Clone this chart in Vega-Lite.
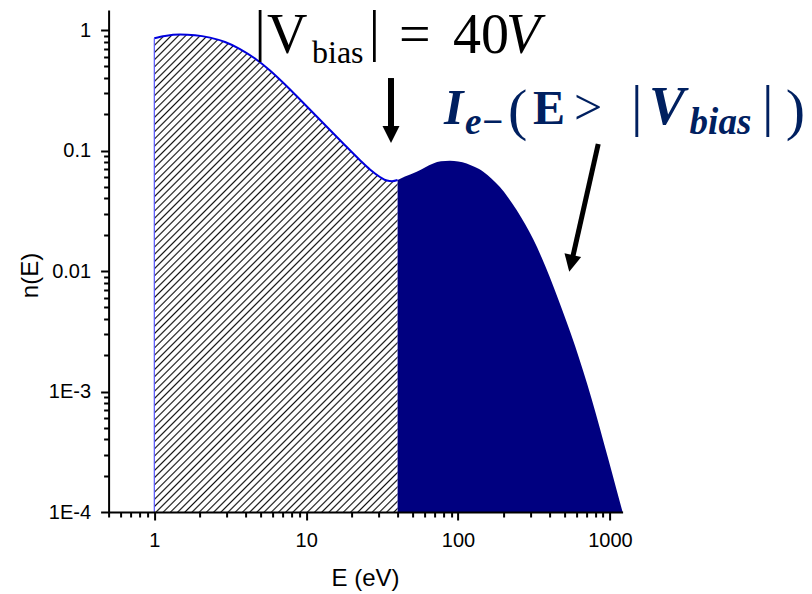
{
  "$schema": "https://vega.github.io/schema/vega-lite/v6.json",
  "width": 514,
  "height": 502,
  "autosize": "none",
  "padding": {"left": 108.6, "top": 10, "right": 189.4, "bottom": 82},
  "background": "white",
  "config": {"view": {"stroke": null}},
  "datasets": {
    "curve": [
      {"E": 1, "n": 0.8533}, {"E": 1.176, "n": 0.8916}, {"E": 1.476, "n": 0.9159}, {"E": 1.853, "n": 0.9054},
      {"E": 2.326, "n": 0.8647}, {"E": 2.92, "n": 0.7951}, {"E": 3.666, "n": 0.6956}, {"E": 4.602, "n": 0.58},
      {"E": 5.777, "n": 0.4612}, {"E": 7.252, "n": 0.353}, {"E": 9.103, "n": 0.265}, {"E": 11.43, "n": 0.1982},
      {"E": 14.34, "n": 0.148}, {"E": 18.0, "n": 0.1107}, {"E": 22.61, "n": 0.0831}, {"E": 26.3, "n": 0.0696},
      {"E": 30.61, "n": 0.0603}, {"E": 34.03, "n": 0.0563}, {"E": 36.72, "n": 0.0556}, {"E": 40, "n": 0.0569},
      {"E": 44.71, "n": 0.0608}, {"E": 53.4, "n": 0.0667}, {"E": 60.55, "n": 0.0723}, {"E": 68.66, "n": 0.078},
      {"E": 77.17, "n": 0.0813}, {"E": 88.44, "n": 0.0824}, {"E": 100.3, "n": 0.0812}, {"E": 113.9, "n": 0.0781},
      {"E": 129.2, "n": 0.0729}, {"E": 146.6, "n": 0.0668}, {"E": 166.4, "n": 0.0584}, {"E": 188.7, "n": 0.0498},
      {"E": 214.1, "n": 0.0406}, {"E": 243.1, "n": 0.03209}, {"E": 275.6, "n": 0.02464}, {"E": 312.7, "n": 0.01833},
      {"E": 355.1, "n": 0.01294}, {"E": 402.7, "n": 0.00883}, {"E": 456.8, "n": 0.005834}, {"E": 518.8, "n": 0.003781},
      {"E": 588.3, "n": 0.002408}, {"E": 667.3, "n": 0.001471}, {"E": 757.9, "n": 0.000867}, {"E": 859.5, "n": 0.000494},
      {"E": 974.6, "n": 0.000276}, {"E": 1107, "n": 0.000152}, {"E": 1212, "n": 0.0001}
    ],
    "lab1big": [
      {"E": 4.56, "n": 0.6823, "t": "|"},
      {"E": 5.521, "n": 0.6406, "t": "V"},
      {"E": 25.86, "n": 0.6823, "t": "|"},
      {"E": 40.83, "n": 0.6406, "t": "="},
      {"E": 92.56, "n": 0.6406, "t": "40"}
    ],
    "lab1sub": [{"E": 10.92, "n": 0.5293, "t": "bias"}],
    "lab1ital": [{"E": 206.8, "n": 0.6406, "t": "V"}],
    "lab2bi": [{"E": 80.77, "n": 0.1672, "t": "I"}],
    "lab2bisub": [{"E": 111.0, "n": 0.136, "t": "e−"}, {"E": 3347, "n": 0.136, "t": "bias"}],
    "lab2paren": [
      {"E": 213.1, "n": 0.1508, "t": "("},
      {"E": 14370, "n": 0.1508, "t": ")"},
      {"E": 1375, "n": 0.1628, "t": "|"},
      {"E": 10016, "n": 0.1628, "t": "|"}
    ],
    "lab2gt": [{"E": 579.4, "n": 0.1672, "t": ">"}],
    "lab2E": [{"E": 311.3, "n": 0.1672, "t": "E"}],
    "lab2V": [{"E": 1806, "n": 0.1672, "t": "V"}],
    "shaft1": [{"E": 36.17, "n": 0.3995, "E2": 36.17, "n2": 0.148}],
    "head1": [{"E": 36.17, "n": 0.1358}],
    "shaft2": [{"E": 837.5, "n": 0.1132, "E2": 566.3, "n2": 0.0127}],
    "head2": [{"E": 554.6, "n": 0.01156}]
  },
  "encoding": {
    "x": {
      "field": "E", "type": "quantitative",
      "scale": {"type": "log", "domain": [0.5, 1212], "nice": false},
      "axis": {
        "orient": "bottom", "title": "E (eV)", "grid": false, "zindex": 1,
        "values": [0.5, 0.6, 0.7, 0.8, 0.9, 1, 2, 3, 4, 5, 6, 7, 8, 9, 10, 20, 30, 40, 50, 60, 70, 80, 90, 100, 200, 300, 400, 500, 600, 700, 800, 900, 1000],
        "labelExpr": "abs(log(datum.value)/LN10 - round(log(datum.value)/LN10)) < 0.001 ? format(datum.value, 'd') : ''",
        "tickSize": {"condition": {"test": "abs(log(datum.value)/LN10 - round(log(datum.value)/LN10)) < 0.001", "value": 8}, "value": 5},
        "tickWidth": 2, "tickColor": "black", "domainColor": "black", "domainWidth": 2,
        "labelFont": "Liberation Sans", "labelFontSize": 20, "labelColor": "black", "labelPadding": 10,
        "labelOverlap": false, "labelFlush": false, "labelBound": false,
        "titleFont": "Liberation Sans", "titleFontSize": 24, "titleFontWeight": "normal", "titleColor": "black",
        "titleX": 256.4, "titleY": 73, "titleBaseline": "alphabetic", "titleAlign": "center"
      }
    },
    "y": {
      "field": "n", "type": "quantitative",
      "scale": {"type": "log", "domain": [0.0001, 1.466], "nice": false},
      "axis": {
        "orient": "left", "title": "n(E)", "grid": false, "zindex": 1,
        "values": [0.0001, 0.0002, 0.0003, 0.0004, 0.0005, 0.0006, 0.0007, 0.0008, 0.0009, 0.001, 0.002, 0.003, 0.004, 0.005, 0.006, 0.007, 0.008, 0.009, 0.01, 0.02, 0.03, 0.04, 0.05, 0.06, 0.07, 0.08, 0.09, 0.1, 0.2, 0.3, 0.4, 0.5, 0.6, 0.7, 0.8, 0.9, 1],
        "labelExpr": "abs(log(datum.value)/LN10 - round(log(datum.value)/LN10)) < 0.001 ? (datum.value >= 0.01 ? format(datum.value, '~g') : '1E' + round(log(datum.value)/LN10)) : ''",
        "tickSize": {"condition": {"test": "abs(log(datum.value)/LN10 - round(log(datum.value)/LN10)) < 0.001", "value": 8}, "value": 5},
        "tickWidth": 2, "tickColor": "black", "domainColor": "black", "domainWidth": 2,
        "labelFont": "Liberation Sans", "labelFontSize": 20, "labelColor": "black", "labelPadding": 10,
        "labelOverlap": false, "labelFlush": false, "labelBound": false,
        "titleFont": "Liberation Sans", "titleFontSize": 24, "titleFontWeight": "normal", "titleColor": "black",
        "titleX": -78.6, "titleY": 265, "titleBaseline": "middle", "titleAlign": "center", "titleAngle": -90
      }
    }
  },
  "layer": [
    {
      "data": {"name": "curve"},
      "transform": [{"filter": "datum.E <= 40"}],
      "mark": {
        "type": "area", "interpolate": "monotone", "fillOpacity": 1,
        "fill": {
          "gradient": "linear", "x1": 0, "y1": 0, "x2": 0.6107, "y2": 1.1984,
          "stops": [
            {"offset":0.0028,"color":"#fff"},{"offset":0.005,"color":"#111"},{"offset":0.0072,"color":"#fff"},
            {"offset":0.0128,"color":"#fff"},{"offset":0.015,"color":"#111"},{"offset":0.0172,"color":"#fff"},
            {"offset":0.0228,"color":"#fff"},{"offset":0.025,"color":"#111"},{"offset":0.0272,"color":"#fff"},
            {"offset":0.0328,"color":"#fff"},{"offset":0.035,"color":"#111"},{"offset":0.0372,"color":"#fff"},
            {"offset":0.0428,"color":"#fff"},{"offset":0.045,"color":"#111"},{"offset":0.0472,"color":"#fff"},
            {"offset":0.0528,"color":"#fff"},{"offset":0.055,"color":"#111"},{"offset":0.0572,"color":"#fff"},
            {"offset":0.0628,"color":"#fff"},{"offset":0.065,"color":"#111"},{"offset":0.0672,"color":"#fff"},
            {"offset":0.0728,"color":"#fff"},{"offset":0.075,"color":"#111"},{"offset":0.0772,"color":"#fff"},
            {"offset":0.0828,"color":"#fff"},{"offset":0.085,"color":"#111"},{"offset":0.0872,"color":"#fff"},
            {"offset":0.0928,"color":"#fff"},{"offset":0.095,"color":"#111"},{"offset":0.0972,"color":"#fff"},
            {"offset":0.1028,"color":"#fff"},{"offset":0.105,"color":"#111"},{"offset":0.1072,"color":"#fff"},
            {"offset":0.1128,"color":"#fff"},{"offset":0.115,"color":"#111"},{"offset":0.1172,"color":"#fff"},
            {"offset":0.1228,"color":"#fff"},{"offset":0.125,"color":"#111"},{"offset":0.1272,"color":"#fff"},
            {"offset":0.1328,"color":"#fff"},{"offset":0.135,"color":"#111"},{"offset":0.1372,"color":"#fff"},
            {"offset":0.1428,"color":"#fff"},{"offset":0.145,"color":"#111"},{"offset":0.1472,"color":"#fff"},
            {"offset":0.1528,"color":"#fff"},{"offset":0.155,"color":"#111"},{"offset":0.1572,"color":"#fff"},
            {"offset":0.1628,"color":"#fff"},{"offset":0.165,"color":"#111"},{"offset":0.1672,"color":"#fff"},
            {"offset":0.1728,"color":"#fff"},{"offset":0.175,"color":"#111"},{"offset":0.1772,"color":"#fff"},
            {"offset":0.1828,"color":"#fff"},{"offset":0.185,"color":"#111"},{"offset":0.1872,"color":"#fff"},
            {"offset":0.1928,"color":"#fff"},{"offset":0.195,"color":"#111"},{"offset":0.1972,"color":"#fff"},
            {"offset":0.2028,"color":"#fff"},{"offset":0.205,"color":"#111"},{"offset":0.2072,"color":"#fff"},
            {"offset":0.2128,"color":"#fff"},{"offset":0.215,"color":"#111"},{"offset":0.2172,"color":"#fff"},
            {"offset":0.2228,"color":"#fff"},{"offset":0.225,"color":"#111"},{"offset":0.2272,"color":"#fff"},
            {"offset":0.2328,"color":"#fff"},{"offset":0.235,"color":"#111"},{"offset":0.2372,"color":"#fff"},
            {"offset":0.2428,"color":"#fff"},{"offset":0.245,"color":"#111"},{"offset":0.2472,"color":"#fff"},
            {"offset":0.2528,"color":"#fff"},{"offset":0.255,"color":"#111"},{"offset":0.2572,"color":"#fff"},
            {"offset":0.2628,"color":"#fff"},{"offset":0.265,"color":"#111"},{"offset":0.2672,"color":"#fff"},
            {"offset":0.2728,"color":"#fff"},{"offset":0.275,"color":"#111"},{"offset":0.2772,"color":"#fff"},
            {"offset":0.2828,"color":"#fff"},{"offset":0.285,"color":"#111"},{"offset":0.2872,"color":"#fff"},
            {"offset":0.2928,"color":"#fff"},{"offset":0.295,"color":"#111"},{"offset":0.2972,"color":"#fff"},
            {"offset":0.3028,"color":"#fff"},{"offset":0.305,"color":"#111"},{"offset":0.3072,"color":"#fff"},
            {"offset":0.3128,"color":"#fff"},{"offset":0.315,"color":"#111"},{"offset":0.3172,"color":"#fff"},
            {"offset":0.3228,"color":"#fff"},{"offset":0.325,"color":"#111"},{"offset":0.3272,"color":"#fff"},
            {"offset":0.3328,"color":"#fff"},{"offset":0.335,"color":"#111"},{"offset":0.3372,"color":"#fff"},
            {"offset":0.3428,"color":"#fff"},{"offset":0.345,"color":"#111"},{"offset":0.3472,"color":"#fff"},
            {"offset":0.3528,"color":"#fff"},{"offset":0.355,"color":"#111"},{"offset":0.3572,"color":"#fff"},
            {"offset":0.3628,"color":"#fff"},{"offset":0.365,"color":"#111"},{"offset":0.3672,"color":"#fff"},
            {"offset":0.3728,"color":"#fff"},{"offset":0.375,"color":"#111"},{"offset":0.3772,"color":"#fff"},
            {"offset":0.3828,"color":"#fff"},{"offset":0.385,"color":"#111"},{"offset":0.3872,"color":"#fff"},
            {"offset":0.3928,"color":"#fff"},{"offset":0.395,"color":"#111"},{"offset":0.3972,"color":"#fff"},
            {"offset":0.4028,"color":"#fff"},{"offset":0.405,"color":"#111"},{"offset":0.4072,"color":"#fff"},
            {"offset":0.4128,"color":"#fff"},{"offset":0.415,"color":"#111"},{"offset":0.4172,"color":"#fff"},
            {"offset":0.4228,"color":"#fff"},{"offset":0.425,"color":"#111"},{"offset":0.4272,"color":"#fff"},
            {"offset":0.4328,"color":"#fff"},{"offset":0.435,"color":"#111"},{"offset":0.4372,"color":"#fff"},
            {"offset":0.4428,"color":"#fff"},{"offset":0.445,"color":"#111"},{"offset":0.4472,"color":"#fff"},
            {"offset":0.4528,"color":"#fff"},{"offset":0.455,"color":"#111"},{"offset":0.4572,"color":"#fff"},
            {"offset":0.4628,"color":"#fff"},{"offset":0.465,"color":"#111"},{"offset":0.4672,"color":"#fff"},
            {"offset":0.4728,"color":"#fff"},{"offset":0.475,"color":"#111"},{"offset":0.4772,"color":"#fff"},
            {"offset":0.4828,"color":"#fff"},{"offset":0.485,"color":"#111"},{"offset":0.4872,"color":"#fff"},
            {"offset":0.4928,"color":"#fff"},{"offset":0.495,"color":"#111"},{"offset":0.4972,"color":"#fff"},
            {"offset":0.5028,"color":"#fff"},{"offset":0.505,"color":"#111"},{"offset":0.5072,"color":"#fff"},
            {"offset":0.5128,"color":"#fff"},{"offset":0.515,"color":"#111"},{"offset":0.5172,"color":"#fff"},
            {"offset":0.5228,"color":"#fff"},{"offset":0.525,"color":"#111"},{"offset":0.5272,"color":"#fff"},
            {"offset":0.5328,"color":"#fff"},{"offset":0.535,"color":"#111"},{"offset":0.5372,"color":"#fff"},
            {"offset":0.5428,"color":"#fff"},{"offset":0.545,"color":"#111"},{"offset":0.5472,"color":"#fff"},
            {"offset":0.5528,"color":"#fff"},{"offset":0.555,"color":"#111"},{"offset":0.5572,"color":"#fff"},
            {"offset":0.5628,"color":"#fff"},{"offset":0.565,"color":"#111"},{"offset":0.5672,"color":"#fff"},
            {"offset":0.5728,"color":"#fff"},{"offset":0.575,"color":"#111"},{"offset":0.5772,"color":"#fff"},
            {"offset":0.5828,"color":"#fff"},{"offset":0.585,"color":"#111"},{"offset":0.5872,"color":"#fff"},
            {"offset":0.5928,"color":"#fff"},{"offset":0.595,"color":"#111"},{"offset":0.5972,"color":"#fff"},
            {"offset":0.6028,"color":"#fff"},{"offset":0.605,"color":"#111"},{"offset":0.6072,"color":"#fff"},
            {"offset":0.6128,"color":"#fff"},{"offset":0.615,"color":"#111"},{"offset":0.6172,"color":"#fff"},
            {"offset":0.6228,"color":"#fff"},{"offset":0.625,"color":"#111"},{"offset":0.6272,"color":"#fff"},
            {"offset":0.6328,"color":"#fff"},{"offset":0.635,"color":"#111"},{"offset":0.6372,"color":"#fff"},
            {"offset":0.6428,"color":"#fff"},{"offset":0.645,"color":"#111"},{"offset":0.6472,"color":"#fff"},
            {"offset":0.6528,"color":"#fff"},{"offset":0.655,"color":"#111"},{"offset":0.6572,"color":"#fff"},
            {"offset":0.6628,"color":"#fff"},{"offset":0.665,"color":"#111"},{"offset":0.6672,"color":"#fff"},
            {"offset":0.6728,"color":"#fff"},{"offset":0.675,"color":"#111"},{"offset":0.6772,"color":"#fff"},
            {"offset":0.6828,"color":"#fff"},{"offset":0.685,"color":"#111"},{"offset":0.6872,"color":"#fff"},
            {"offset":0.6928,"color":"#fff"},{"offset":0.695,"color":"#111"},{"offset":0.6972,"color":"#fff"},
            {"offset":0.7028,"color":"#fff"},{"offset":0.705,"color":"#111"},{"offset":0.7072,"color":"#fff"},
            {"offset":0.7128,"color":"#fff"},{"offset":0.715,"color":"#111"},{"offset":0.7172,"color":"#fff"},
            {"offset":0.7228,"color":"#fff"},{"offset":0.725,"color":"#111"},{"offset":0.7272,"color":"#fff"},
            {"offset":0.7328,"color":"#fff"},{"offset":0.735,"color":"#111"},{"offset":0.7372,"color":"#fff"},
            {"offset":0.7428,"color":"#fff"},{"offset":0.745,"color":"#111"},{"offset":0.7472,"color":"#fff"},
            {"offset":0.7528,"color":"#fff"},{"offset":0.755,"color":"#111"},{"offset":0.7572,"color":"#fff"},
            {"offset":0.7628,"color":"#fff"},{"offset":0.765,"color":"#111"},{"offset":0.7672,"color":"#fff"},
            {"offset":0.7728,"color":"#fff"},{"offset":0.775,"color":"#111"},{"offset":0.7772,"color":"#fff"},
            {"offset":0.7828,"color":"#fff"},{"offset":0.785,"color":"#111"},{"offset":0.7872,"color":"#fff"},
            {"offset":0.7928,"color":"#fff"},{"offset":0.795,"color":"#111"},{"offset":0.7972,"color":"#fff"},
            {"offset":0.8028,"color":"#fff"},{"offset":0.805,"color":"#111"},{"offset":0.8072,"color":"#fff"},
            {"offset":0.8128,"color":"#fff"},{"offset":0.815,"color":"#111"},{"offset":0.8172,"color":"#fff"},
            {"offset":0.8228,"color":"#fff"},{"offset":0.825,"color":"#111"},{"offset":0.8272,"color":"#fff"},
            {"offset":0.8328,"color":"#fff"},{"offset":0.835,"color":"#111"},{"offset":0.8372,"color":"#fff"},
            {"offset":0.8428,"color":"#fff"},{"offset":0.845,"color":"#111"},{"offset":0.8472,"color":"#fff"},
            {"offset":0.8528,"color":"#fff"},{"offset":0.855,"color":"#111"},{"offset":0.8572,"color":"#fff"},
            {"offset":0.8628,"color":"#fff"},{"offset":0.865,"color":"#111"},{"offset":0.8672,"color":"#fff"},
            {"offset":0.8728,"color":"#fff"},{"offset":0.875,"color":"#111"},{"offset":0.8772,"color":"#fff"},
            {"offset":0.8828,"color":"#fff"},{"offset":0.885,"color":"#111"},{"offset":0.8872,"color":"#fff"},
            {"offset":0.8928,"color":"#fff"},{"offset":0.895,"color":"#111"},{"offset":0.8972,"color":"#fff"},
            {"offset":0.9028,"color":"#fff"},{"offset":0.905,"color":"#111"},{"offset":0.9072,"color":"#fff"},
            {"offset":0.9128,"color":"#fff"},{"offset":0.915,"color":"#111"},{"offset":0.9172,"color":"#fff"},
            {"offset":0.9228,"color":"#fff"},{"offset":0.925,"color":"#111"},{"offset":0.9272,"color":"#fff"},
            {"offset":0.9328,"color":"#fff"},{"offset":0.935,"color":"#111"},{"offset":0.9372,"color":"#fff"},
            {"offset":0.9428,"color":"#fff"},{"offset":0.945,"color":"#111"},{"offset":0.9472,"color":"#fff"},
            {"offset":0.9528,"color":"#fff"},{"offset":0.955,"color":"#111"},{"offset":0.9572,"color":"#fff"},
            {"offset":0.9628,"color":"#fff"},{"offset":0.965,"color":"#111"},{"offset":0.9672,"color":"#fff"},
            {"offset":0.9728,"color":"#fff"},{"offset":0.975,"color":"#111"},{"offset":0.9772,"color":"#fff"},
            {"offset":0.9828,"color":"#fff"},{"offset":0.985,"color":"#111"},{"offset":0.9872,"color":"#fff"},
            {"offset":0.9928,"color":"#fff"},{"offset":0.995,"color":"#111"},{"offset":0.9972,"color":"#fff"}
          ]
        }
      },
      "encoding": {"y2": {"datum": 0.0001}}
    },
    {
      "data": {"name": "curve"},
      "transform": [{"filter": "datum.E >= 40"}],
      "mark": {"type": "area", "interpolate": "monotone", "fill": "#000080", "fillOpacity": 1},
      "encoding": {"y2": {"datum": 0.0001}}
    },
    {
      "data": {"name": "curve"},
      "transform": [{"filter": "datum.E <= 40"}],
      "mark": {"type": "line", "interpolate": "monotone", "stroke": "#0000dd", "strokeWidth": 2},
      "encoding": {}
    },
    {
      "data": {"name": "curve"},
      "transform": [{"filter": "datum.E == 1"}],
      "mark": {"type": "rule", "stroke": "#5555ff", "strokeWidth": 1.2},
      "encoding": {"y2": {"datum": 0.0001}}
    },
    {
      "data": {"name": "shaft1"},
      "mark": {"type": "rule", "stroke": "black", "strokeWidth": 6},
      "encoding": {"x2": {"field": "E2"}, "y2": {"field": "n2"}}
    },
    {
      "data": {"name": "head1"},
      "mark": {"type": "point", "shape": "M-1,-1L1,-1L0,1Z", "size": 289, "filled": true, "fill": "black", "opacity": 1, "strokeWidth": 0, "angle": 0},
      "encoding": {}
    },
    {
      "data": {"name": "shaft2"},
      "mark": {"type": "rule", "stroke": "black", "strokeWidth": 5},
      "encoding": {"x2": {"field": "E2"}, "y2": {"field": "n2"}}
    },
    {
      "data": {"name": "head2"},
      "mark": {"type": "point", "shape": "M-1,-1L1,-1L0,1Z", "size": 289, "filled": true, "fill": "black", "opacity": 1, "strokeWidth": 0, "angle": 12.2},
      "encoding": {}
    },
    {
      "data": {"name": "lab1big"},
      "mark": {"type": "text", "align": "left", "baseline": "alphabetic", "font": "Liberation Serif", "fontSize": 56, "color": "black"},
      "encoding": {"text": {"field": "t"}}
    },
    {
      "data": {"name": "lab1sub"},
      "mark": {"type": "text", "align": "left", "baseline": "alphabetic", "font": "Liberation Serif", "fontSize": 32, "color": "black"},
      "encoding": {"text": {"field": "t"}}
    },
    {
      "data": {"name": "lab1ital"},
      "mark": {"type": "text", "align": "left", "baseline": "alphabetic", "font": "Liberation Serif", "fontSize": 56, "fontStyle": "italic", "color": "black"},
      "encoding": {"text": {"field": "t"}}
    },
    {
      "data": {"name": "lab2bi"},
      "mark": {"type": "text", "align": "left", "baseline": "alphabetic", "font": "Liberation Serif", "fontSize": 50, "fontStyle": "italic", "fontWeight": "bold", "color": "#002060"},
      "encoding": {"text": {"field": "t"}}
    },
    {
      "data": {"name": "lab2bisub"},
      "mark": {"type": "text", "align": "left", "baseline": "alphabetic", "font": "Liberation Serif", "fontSize": 37, "fontStyle": "italic", "fontWeight": "bold", "color": "#002060"},
      "encoding": {"text": {"field": "t"}}
    },
    {
      "data": {"name": "lab2paren"},
      "mark": {"type": "text", "align": "left", "baseline": "alphabetic", "font": "Liberation Serif", "fontSize": 58, "color": "#002060"},
      "encoding": {"text": {"field": "t"}}
    },
    {
      "data": {"name": "lab2gt"},
      "mark": {"type": "text", "align": "left", "baseline": "alphabetic", "font": "Liberation Serif", "fontSize": 50, "color": "#002060"},
      "encoding": {"text": {"field": "t"}}
    },
    {
      "data": {"name": "lab2E"},
      "mark": {"type": "text", "align": "left", "baseline": "alphabetic", "font": "Liberation Serif", "fontSize": 48, "fontWeight": "bold", "color": "#002060"},
      "encoding": {"text": {"field": "t"}}
    },
    {
      "data": {"name": "lab2V"},
      "mark": {"type": "text", "align": "left", "baseline": "alphabetic", "font": "Liberation Serif", "fontSize": 54, "fontStyle": "italic", "fontWeight": "bold", "color": "#002060"},
      "encoding": {"text": {"field": "t"}}
    }
  ]
}
